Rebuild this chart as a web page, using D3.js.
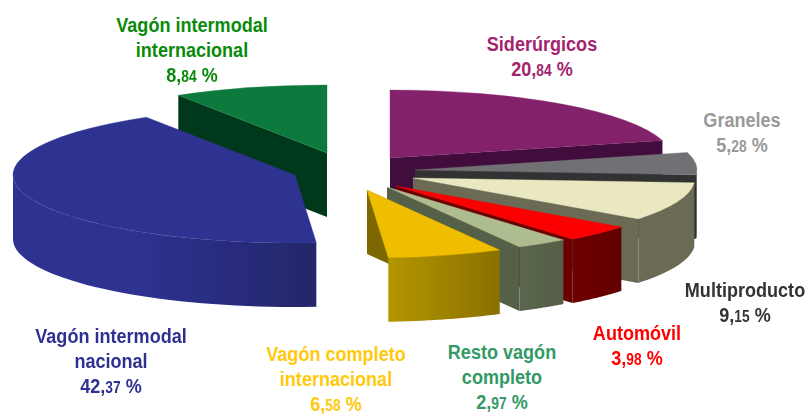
<!DOCTYPE html>
<html><head><meta charset="utf-8">
<script src="https://cdn.jsdelivr.net/npm/d3@7/dist/d3.min.js"></script>
<style>html,body{margin:0;padding:0;background:#fff}svg{display:block}
text{font-family:"Liberation Sans",Arial,sans-serif;font-weight:700;text-anchor:middle}</style>
</head><body><svg id="c" width="807" height="414"></svg>
<script>
const categories=["Siderúrgicos","Graneles","Multiproducto","Automóvil","Resto vagón completo","Vagón completo internacional","Vagón intermodal nacional","Vagón intermodal internacional"];
const values=[20.84,5.28,9.15,3.98,2.97,6.58,42.37,8.84];
const labelLines=[["Siderúrgicos"],["Graneles"],["Multiproducto"],["Automóvil"],["Resto vagón","completo"],["Vagón completo","internacional"],["Vagón intermodal","nacional"],["Vagón intermodal","internacional"]];
// styling / layout (not data)
const topColors=["#83246b","#716f74","#e9e8c0","#fb0000","#aebd90","#efbe00","#2e3191","#0b7a3c"];
const wallColors=["#3f0a3c","#333331","#6a6a55","#6b0000","#556048","#7d6800","#272a78","#04391c"];
const outerFrom=["#3f0a3c","#55555a","#6a6a55","#6e0000","#5c664e","#b39600","#2e3191","#04391c"];
const outerTo=["#3f0a3c","#333331","#6a6a55","#620000","#545e46","#8a7000","#25276a","#04391c"];
const labelColors=["#a3246e","#999999","#333333","#ff0000","#339966","#ffc90e","#2e3191","#0a8a0a"];
const apexX=[390,415,413,396,387,367,295,327];
const apexY=[158,170,178,186,187,190,175,153];
const labelX=[542,742,745,637,502,336,111,192];
const labelY=[51,127,297,340,359,361,343,32];
const drawOrder=[7,0,6,1,2,3,4,5];
const frontEnd=[0,1,2,3,4];      // slices whose clockwise edge wall faces the viewer
const frontStart=[5,7];          // slices whose counter-clockwise edge wall faces the viewer
const Rx=282,Ry=68,depth=64,lineH=25,fontPx=21,smallPx=16,squeeze=0.86;

const svg=d3.select("#c"),defs=svg.append("defs");
const blur=defs.append("filter").attr("id","soft");
blur.append("feGaussianBlur").attr("stdDeviation",0.45);
const pieLayer=svg.append("g").attr("filter","url(#soft)");
const pie=d3.pie().sort(null).value(d=>d)(values);
const sx=d3.scaleLinear().domain([-1,1]).range([-Rx,Rx]);
const sy=d3.scaleLinear().domain([-1,1]).range([-Ry,Ry]);
const arc=d3.arc().innerRadius(0).outerRadius(Rx);
const line=d3.line();
const pt=(i,a,dz=0)=>[apexX[i]+sx(Math.sin(a)),apexY[i]+sy(-Math.cos(a))+dz];

function radialWall(i,a){return line([[apexX[i],apexY[i]],pt(i,a),pt(i,a,depth),[apexX[i],apexY[i]+depth]])+"Z";}
function outerWall(i,a0,a1){
  const n=40,as=d3.range(n+1).map(j=>a0+(a1-a0)*j/n);
  return line([...as.map(a=>pt(i,a)),...as.slice().reverse().map(a=>pt(i,a,depth))])+"Z";
}
drawOrder.forEach(i=>{
  const d=pie[i],g=pieLayer.append("g");
  const a0=d.startAngle,a1=d.endAngle;
  if(frontEnd.includes(i)) g.append("path").attr("d",radialWall(i,a1)).attr("fill",wallColors[i]);
  if(frontStart.includes(i)) g.append("path").attr("d",radialWall(i,a0)).attr("fill",wallColors[i]);
  const w0=Math.max(a0,Math.PI/2),w1=Math.min(a1,Math.PI*1.5);
  if(w1>w0){
    const xs=[pt(i,w0)[0],pt(i,w1)[0]];
    const gid="g"+i;
    const lg=defs.append("linearGradient").attr("id",gid).attr("gradientUnits","userSpaceOnUse")
      .attr("x1",d3.min(xs)).attr("x2",d3.max(xs)).attr("y1",0).attr("y2",0);
    lg.append("stop").attr("offset",i===6?"0.4":"0").attr("stop-color",outerFrom[i]);
    lg.append("stop").attr("offset","1").attr("stop-color",outerTo[i]);
    g.append("path").attr("d",outerWall(i,w0,w1)).attr("fill",`url(#${gid})`);
  }
  g.append("path").attr("d",arc({startAngle:a0,endAngle:a1}))
    .attr("transform",`translate(${apexX[i]},${apexY[i]}) scale(1,${Ry/Rx})`)
    .attr("fill",topColors[i]).attr("stroke",topColors[i]).attr("stroke-width",0.6);
});
values.forEach((v,i)=>{
  const g=svg.append("g").attr("fill",labelColors[i]);
  const rows=labelLines[i];
  const place=(s,y)=>g.append("text").attr("transform",`translate(${labelX[i]},${y}) scale(${squeeze},1)`).attr("font-size",fontPx);
  rows.forEach((s,r)=>place(s,labelY[i]+r*lineH).text(s));
  const parts=v.toFixed(2).split(".");
  const t=place("",labelY[i]+rows.length*lineH);
  t.append("tspan").text(parts[0]+",");
  t.append("tspan").attr("font-size",smallPx).text(parts[1]);
  t.append("tspan").text(" %");
});
</script></body></html>
